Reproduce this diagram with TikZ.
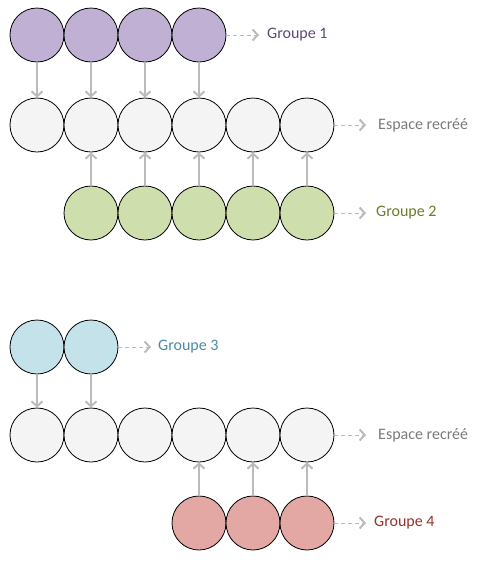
\documentclass[tikz,border=0pt]{standalone}
\usepackage{fontspec}
\setmainfont{Carlito}
\usetikzlibrary{arrows.meta}
\definecolor{cpurple}{HTML}{C0B1D4}
\definecolor{cgray}{HTML}{F4F4F4}
\definecolor{cgreen}{HTML}{CFDEAD}
\definecolor{cblue}{HTML}{C4E2EA}
\definecolor{cred}{HTML}{E3A8A4}
\definecolor{tpurple}{HTML}{5C4A78}
\definecolor{tgray}{HTML}{7A7A7A}
\definecolor{tgreen}{HTML}{6E7A28}
\definecolor{tblue}{HTML}{4A8AA8}
\definecolor{tred}{HTML}{963028}
\definecolor{arr}{HTML}{BBBBBB}
\tikzset{
  cell/.style={circle, draw=black, line width=0.8pt, minimum size=54pt, inner sep=0pt},
  move/.style={draw=arr, line width=2pt, -{Straight Barb[length=5pt,width=11pt,line width=2pt]}},
  lead/.style={draw=arr, line width=1pt, dash pattern=on 4pt off 3pt, -{Straight Barb[length=5pt,width=11pt,line width=2pt]}},
  lab/.style={anchor=west, inner sep=0pt, font=\fontsize{16}{18}\selectfont}
}
\begin{document}
\begin{tikzpicture}[x=1pt, y=-1pt]
\useasboundingbox (0,0) rectangle (480,563);
% Block 1
\foreach \i/\x in {1/37,2/91,3/145,4/199} \node[cell, fill=cpurple] (g1\i) at (\x,35) {};
\foreach \i/\x in {1/37,2/91,3/145,4/199,5/253,6/307} \node[cell, fill=cgray] (e1\i) at (\x,125) {};
\foreach \i/\x in {2/91,3/145,4/199,5/253,6/307} \node[cell, fill=cgreen] (g2\i) at (\x,213) {};
\foreach \i in {1,2,3,4} \draw[move] (g1\i.south) -- (e1\i.north);
\foreach \i in {2,3,4,5,6} \draw[move] (g2\i.north) -- (e1\i.south);
\coordinate (d1) at (259,35);
\coordinate (d2) at (366,125);
\coordinate (d3) at (366,213);
\draw[lead] (g14.east) -- (d1);
\draw[lead] (e16.east) -- (d2);
\draw[lead] (g26.east) -- (d3);
\node[lab, text=tpurple] (l1) at (267,35) {Groupe 1};
\node[lab, text=tgray] (l2) at (378,125) {Espace recréé};
\node[lab, text=tgreen] (l3) at (376,213) {Groupe 2};
% Block 2
\foreach \i/\x in {1/37,2/91} \node[cell, fill=cblue] (g3\i) at (\x,347) {};
\foreach \i/\x in {1/37,2/91,3/145,4/199,5/253,6/307} \node[cell, fill=cgray] (e2\i) at (\x,435) {};
\foreach \i/\x in {4/199,5/253,6/307} \node[cell, fill=cred] (g4\i) at (\x,523) {};
\foreach \i in {1,2} \draw[move] (g3\i.south) -- (e2\i.north);
\foreach \i in {4,5,6} \draw[move] (g4\i.north) -- (e2\i.south);
\coordinate (d4) at (151,347);
\coordinate (d5) at (366,435);
\coordinate (d6) at (366,523);
\draw[lead] (g32.east) -- (d4);
\draw[lead] (e26.east) -- (d5);
\draw[lead] (g46.east) -- (d6);
\node[lab, text=tblue] (l4) at (158,347) {Groupe 3};
\node[lab, text=tgray] (l5) at (378,435) {Espace recréé};
\node[lab, text=tred] (l6) at (374,523) {Groupe 4};
\end{tikzpicture}
\end{document}
